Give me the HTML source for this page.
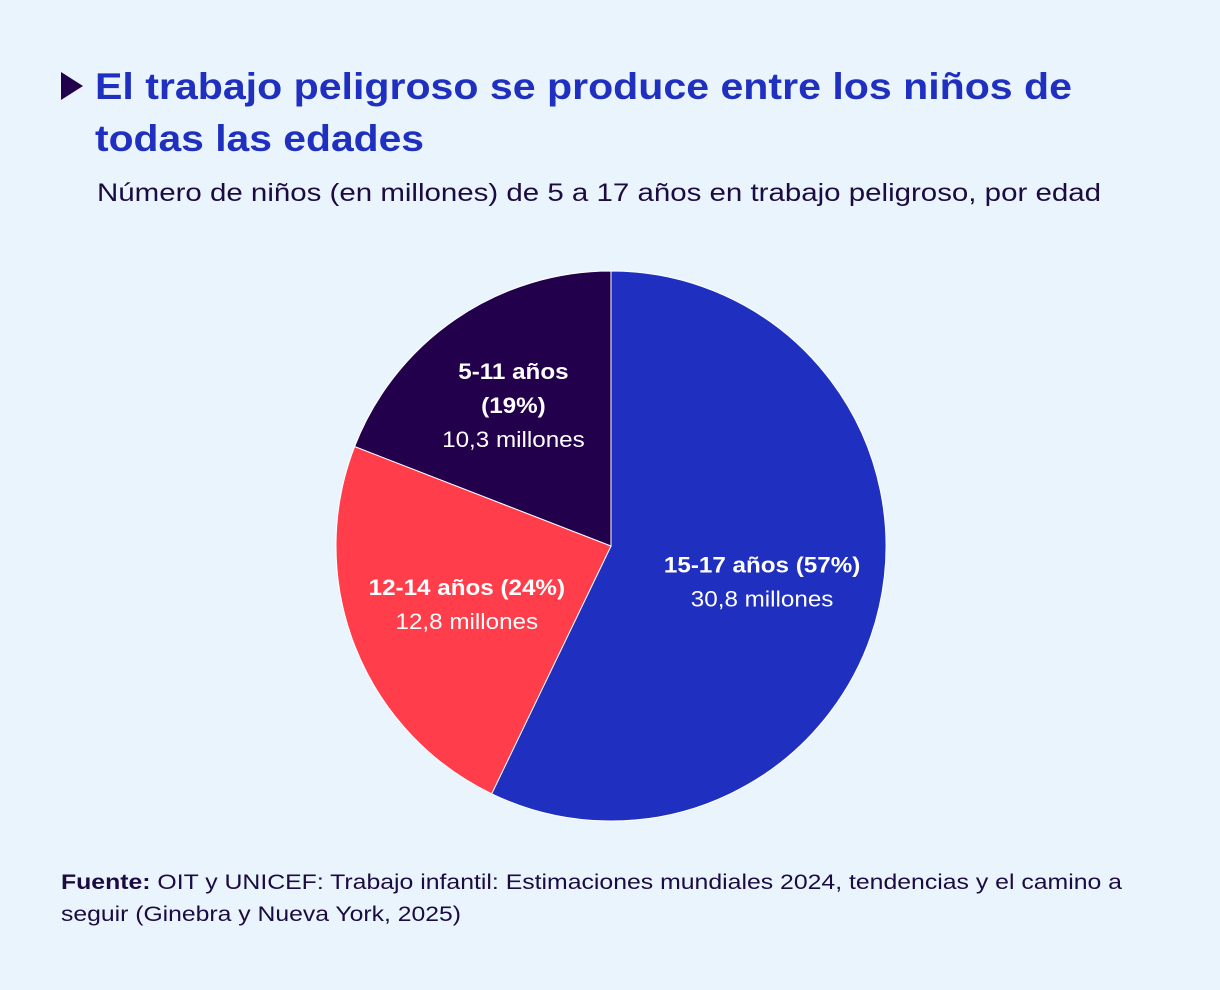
<!DOCTYPE html>
<html><head><meta charset="utf-8"><style>
html,body{margin:0;padding:0;background:#eaf4fd;}
svg{display:block;font-family:"Liberation Sans",sans-serif;}
</style></head><body>
<svg id="chart" width="1220" height="990" viewBox="0 0 1220 990">
<rect width="1220" height="990" fill="#eaf4fd"/>
<polygon points="61,72 61,100 83,86" fill="#23004c"/>
<text x="95" y="99" font-size="37" font-weight="bold" fill="#1f2fbf" textLength="977" lengthAdjust="spacingAndGlyphs">El trabajo peligroso se produce entre los niños de</text>
<text x="95" y="151" font-size="37" font-weight="bold" fill="#1f2fbf" textLength="329" lengthAdjust="spacingAndGlyphs">todas las edades</text>
<text x="97" y="201" font-size="25" fill="#1b0b40" textLength="1004" lengthAdjust="spacingAndGlyphs">Número de niños (en millones) de 5 a 17 años en trabajo peligroso, por edad</text>
<g id="pie"></g>
<text x="61" y="889" font-size="21" fill="#1b0b40" textLength="1061" lengthAdjust="spacingAndGlyphs"><tspan font-weight="bold">Fuente:</tspan> OIT y UNICEF: Trabajo infantil: Estimaciones mundiales 2024, tendencias y el camino a</text>
<text x="61" y="921" font-size="21" fill="#1b0b40" textLength="400" lengthAdjust="spacingAndGlyphs">seguir (Ginebra y Nueva York, 2025)</text>
</svg>
<script>
const categories = ["15-17 años", "12-14 años", "5-11 años"];
const values = [30.8, 12.8, 10.3];
const percentLabels = ["57%", "24%", "19%"];
const valueLabels = ["30,8 millones", "12,8 millones", "10,3 millones"];
const colors = ["#1f2fbf", "#ff3d4b", "#23004c"];
const cx = 611, cy = 546, R = 275, LR = 155;
const NS = "http://www.w3.org/2000/svg";
const g = document.getElementById("pie");
const total = values.reduce((a, b) => a + b, 0);
function pt(a, r) { return [cx + r * Math.sin(a), cy - r * Math.cos(a)]; }
let acc = 0;
values.forEach((v, i) => {
  const a0 = acc / total * 2 * Math.PI; acc += v;
  const a1 = acc / total * 2 * Math.PI;
  const p0 = pt(a0, R), p1 = pt(a1, R);
  const large = (a1 - a0) > Math.PI ? 1 : 0;
  const path = document.createElementNS(NS, "path");
  path.setAttribute("d", `M${cx},${cy} L${p0[0]},${p0[1]} A${R},${R} 0 ${large} 1 ${p1[0]},${p1[1]} Z`);
  path.setAttribute("fill", colors[i]);
  path.setAttribute("stroke", "#ffffff");
  path.setAttribute("stroke-width", "1");
  
  
  g.appendChild(path);
  const m = pt((a0 + a1) / 2, LR);
  const lines = (i === 2)
    ? [[categories[i], true], ["(" + percentLabels[i] + ")", true], [valueLabels[i], false]]
    : [[categories[i] + " (" + percentLabels[i] + ")", true], [valueLabels[i], false]];
  const lh = 34;
  const startY = m[1] - (lines.length - 1) * lh / 2 + (i === 2 ? -5 : 9);
  lines.forEach((ln, j) => {
    const t = document.createElementNS(NS, "text");
    t.setAttribute("x", m[0] - (i === 2 ? 10 : 0));
    t.setAttribute("y", startY + j * lh);
    t.setAttribute("text-anchor", "middle");
    t.setAttribute("font-size", "22");
    t.setAttribute("fill", "#ffffff");
    if (ln[1]) t.setAttribute("font-weight", "bold");
    t.textContent = ln[0];
    
    
    g.appendChild(t);
    const w = t.getComputedTextLength();
    t.setAttribute("textLength", (w * 1.1).toFixed(1));
    t.setAttribute("lengthAdjust", "spacingAndGlyphs");
  });
});
</script>
</body></html>
